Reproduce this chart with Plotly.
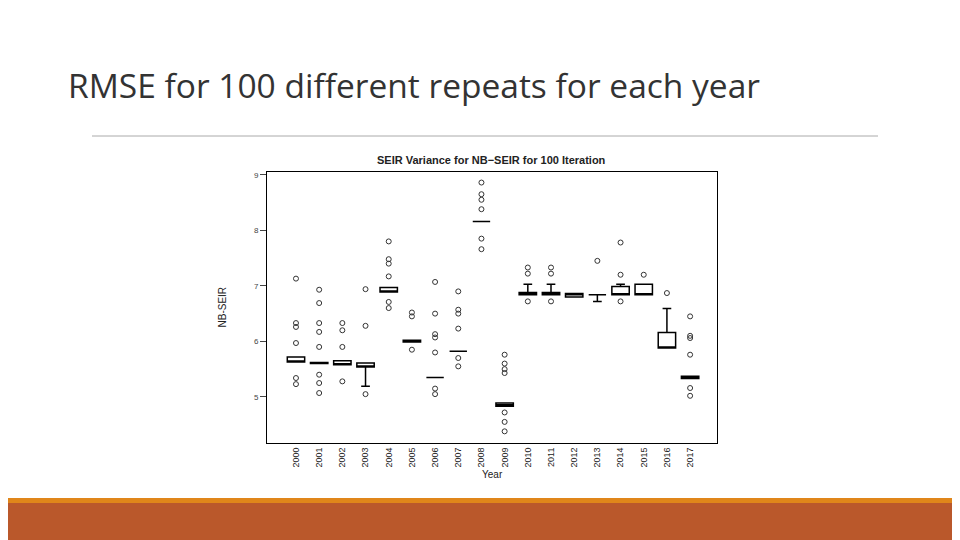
import plotly.graph_objects as go

years = list(range(2000, 2018))
q1 =     [5.63,5.60,5.58,5.54,6.89,5.99,5.35,5.82,8.16,4.83,6.84,6.84,6.80,6.84,6.84,6.84,5.88,5.33]
median = [5.63,5.60,5.58,5.54,6.89,6.00,5.35,5.82,8.16,4.86,6.84,6.84,6.84,6.84,6.84,6.84,5.88,5.35]
q3 =     [5.72,5.62,5.65,5.61,6.97,6.02,5.35,5.82,8.16,4.89,6.88,6.88,6.86,6.84,6.99,7.03,6.16,5.37]
lo =     [5.63,5.60,5.58,5.19,6.89,5.99,5.35,5.82,8.16,4.83,6.84,6.84,6.80,6.72,6.84,6.84,5.88,5.33]
hi =     [5.72,5.62,5.65,5.61,6.97,6.02,5.35,5.82,8.16,4.89,7.03,7.03,6.86,6.84,7.03,7.03,6.59,5.37]
outliers = {
    2000: [7.13,6.33,6.26,5.97,5.34,5.23],
    2001: [6.93,6.69,6.33,6.17,5.90,5.40,5.25,5.07],
    2002: [6.33,6.20,5.90,5.28],
    2003: [6.94,6.28,5.05],
    2004: [7.80,7.48,7.40,7.17,6.71,6.60],
    2005: [6.52,6.45,5.85],
    2006: [7.07,6.50,6.13,6.07,5.80,5.15,5.05],
    2007: [6.90,6.57,6.50,6.23,5.70,5.55],
    2008: [8.86,8.65,8.55,8.38,7.85,7.66],
    2009: [5.76,5.60,5.50,5.43,4.72,4.55,4.38],
    2010: [7.33,7.22,6.72],
    2011: [7.33,7.22,6.72],
    2013: [7.45],
    2014: [7.78,7.20,6.72],
    2015: [7.20],
    2016: [6.87],
    2017: [6.45,6.10,6.06,5.76,5.16,5.02],
}

ox = [y for y, vals in outliers.items() for _ in vals]
oy = [v for vals in outliers.values() for v in vals]

OFF = 8
def px(x): return (x - OFF) / 960
def py(y): return 1 - (y - OFF) / 540

fig = go.Figure()
fig.add_trace(go.Box(x=years, q1=q1, median=median, q3=q3, lowerfence=lo, upperfence=hi,
                     width=0.75, fillcolor="white", line=dict(color="black", width=1.5),
                     whiskerwidth=0.5, boxpoints=False, showlegend=False))
fig.add_trace(go.Scatter(x=ox, y=oy, mode="markers", showlegend=False,
                         marker=dict(symbol="circle-open", size=5, color="#333",
                                     line=dict(width=1))))

fig.update_layout(
    width=960, height=540, margin=dict(l=0, r=0, t=0, b=0),
    paper_bgcolor="white", plot_bgcolor="white",
    font=dict(family="Liberation Sans", color="black"),
    xaxis=dict(domain=[px(267), px(717)], range=[1998.75, 2018.16], tickvals=years,
               ticktext=[str(y) for y in years], tickangle=-90, showgrid=False,
               zeroline=False, showline=True, mirror=True, linecolor="black",
               tickfont=dict(size=9, color="#222"), ticks=""),
    yaxis=dict(domain=[py(443), py(172)], range=[4.17, 9.05], tickvals=[5,6,7,8,9],
               showgrid=False, zeroline=False, showline=True, mirror=True, linecolor="black",
               ticks="outside", ticklen=6, tickfont=dict(size=8, color="#444")),
    annotations=[
        dict(text="RMSE for 100 different repeats for each year", x=px(66), y=py(85),
             xref="paper", yref="paper", xanchor="left", yanchor="middle", showarrow=False,
             font=dict(family="Open Sans", size=33.5, color="#333")),
        dict(text="<b>SEIR Variance for NB\u2212SEIR for 100 Iteration</b>", x=px(491), y=py(152),
             xref="paper", yref="paper", showarrow=False, font=dict(size=11, color="#222")),
        dict(text="NB-SEIR", x=px(214), y=py(307), xref="paper", yref="paper",
             showarrow=False, textangle=-90, font=dict(size=10, color="#222")),
        dict(text="Year", x=px(492), y=py(482), xref="paper", yref="paper",
             showarrow=False, font=dict(size=10, color="#222")),
    ],
    shapes=[
        dict(type="line", xref="paper", yref="paper", x0=px(92), x1=px(878),
             y0=py(136), y1=py(136), line=dict(color="#aaa", width=1)),
        dict(type="rect", xref="paper", yref="paper", x0=0, x1=1, y0=py(503), y1=py(498),
             fillcolor="#E0861A", line=dict(width=0)),
        dict(type="rect", xref="paper", yref="paper", x0=0, x1=1, y0=0, y1=py(503),
             fillcolor="#BA582B", line=dict(width=0)),
    ],
)
fig.write_html("out.html")
